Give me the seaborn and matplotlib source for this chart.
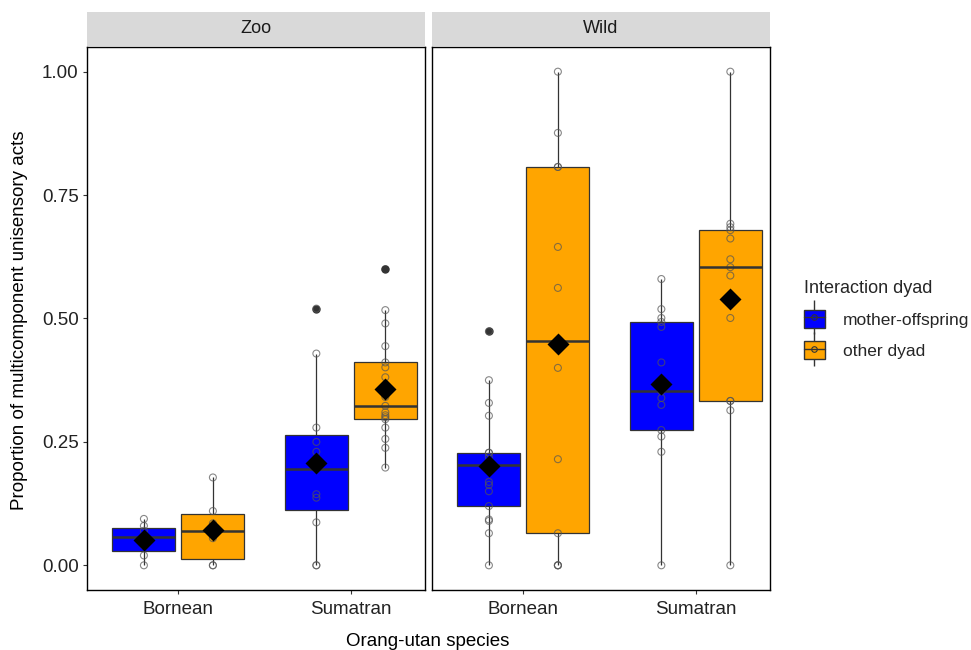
import numpy as np
import pandas as pd
import seaborn as sns
import matplotlib
matplotlib.use("Agg")
import matplotlib.pyplot as plt
from matplotlib.lines import Line2D
from matplotlib.patches import Patch, Rectangle
from matplotlib.legend_handler import HandlerTuple

# values, one list per box
zoo_bor_mo = [0.0, 0.02, 0.04, 0.057, 0.07, 0.08, 0.094]
zoo_bor_ot = [0.0, 0.0, 0.055, 0.085, 0.11, 0.178]
zoo_sum_mo = [0.0, 0.0, 0.087, 0.137, 0.144, 0.195, 0.23, 0.25, 0.279, 0.429, 0.52]
zoo_sum_ot = [0.198, 0.238, 0.256, 0.279, 0.296, 0.300, 0.304, 0.31, 0.323, 0.341,
              0.381, 0.401, 0.411, 0.444, 0.490, 0.517, 0.600]
wild_bor_mo = [0.0, 0.065, 0.09, 0.093, 0.12, 0.15, 0.163, 0.169, 0.203, 0.21,
               0.22, 0.228, 0.228, 0.303, 0.329, 0.375, 0.474]
wild_bor_ot = [0.0, 0.0, 0.0, 0.065, 0.215, 0.40, 0.455, 0.562, 0.645, 0.807,
               0.807, 0.876, 1.0]
wild_sum_mo = [0.0, 0.230, 0.261, 0.274, 0.325, 0.339, 0.353, 0.411, 0.483, 0.493,
               0.501, 0.519, 0.580]
wild_sum_ot = [0.0, 0.314, 0.333, 0.333, 0.501, 0.587, 0.604, 0.620, 0.662, 0.679,
               0.685, 0.692, 1.0]

settings = ["Zoo", "Wild"]
species = ["Bornean", "Sumatran"]
dyads = ["mother-offspring", "other dyad"]
colors = {"mother-offspring": "#0000FF", "other dyad": "#FFA500"}

groups = {
    ("Zoo", "Bornean", "mother-offspring"): zoo_bor_mo,
    ("Zoo", "Bornean", "other dyad"): zoo_bor_ot,
    ("Zoo", "Sumatran", "mother-offspring"): zoo_sum_mo,
    ("Zoo", "Sumatran", "other dyad"): zoo_sum_ot,
    ("Wild", "Bornean", "mother-offspring"): wild_bor_mo,
    ("Wild", "Bornean", "other dyad"): wild_bor_ot,
    ("Wild", "Sumatran", "mother-offspring"): wild_sum_mo,
    ("Wild", "Sumatran", "other dyad"): wild_sum_ot,
}
rows = []
for (st, sp, dy), vals in groups.items():
    for v in vals:
        rows.append({"setting": st, "species": sp, "dyad": dy, "prop": v})
df = pd.DataFrame(rows)

sns.set_style("white")
plt.rcParams["font.family"] = ["Liberation Sans", "DejaVu Sans"]

W, H = 971, 650
fig = plt.figure(figsize=(W / 100, H / 100), dpi=100)
panel_left = [87, 432]
panel_w = 338
top, bottom = 47, 590
for i, st in enumerate(settings):
    ax = fig.add_axes([panel_left[i] / W, (H - bottom) / H, panel_w / W, (bottom - top) / H])
    sub = df[df.setting == st]
    sns.boxplot(data=sub, x="species", y="prop", hue="dyad", order=species,
                hue_order=dyads, palette=colors, saturation=1, width=0.8, gap=0.087,
                showcaps=False, linecolor="#333333", linewidth=0.9,
                medianprops={"linewidth": 1.8},
                flierprops={"marker": "o", "markerfacecolor": "#333333",
                            "markeredgecolor": "#333333", "markersize": 5},
                legend=False, ax=ax)
    n0 = len(ax.collections)
    sns.stripplot(data=sub, x="species", y="prop", hue="dyad", order=species,
                  hue_order=dyads, palette=colors, dodge=True, jitter=False,
                  size=5, edgecolor="#555555", linewidth=0.8, alpha=0.7,
                  legend=False, ax=ax)
    for c in ax.collections[n0:]:
        c.set_facecolor("none")
    sns.pointplot(data=sub, x="species", y="prop", hue="dyad", order=species,
                  hue_order=dyads, palette={d: "black" for d in dyads},
                  estimator="mean", errorbar=None, markers="D", linestyles="none",
                  dodge=0.4, markersize=9, legend=False, ax=ax)
    for ln in ax.lines[-4:]:
        ln.set_zorder(5)

    ax.set_xlim(-0.53, 1.43)
    ax.set_ylim(-0.05, 1.05)
    ax.set_xticks([0, 1])
    ax.set_xticklabels(species)
    ax.set_xlabel("")
    ax.set_ylabel("")
    for s in ax.spines.values():
        s.set_visible(True)
        s.set_color("black")
        s.set_linewidth(1.0)
    ax.tick_params(axis="x", length=3, color="#333333", labelsize=13.5,
                   labelcolor="#222222", pad=5, bottom=True)
    ax.set_yticks([0, 0.25, 0.5, 0.75, 1.0])
    if i == 0:
        ax.set_yticklabels(["0.00", "0.25", "0.50", "0.75", "1.00"])
        ax.tick_params(axis="y", length=3, color="#333333", labelsize=13.5,
                       labelcolor="#222222", pad=3, left=True)
    else:
        ax.tick_params(axis="y", left=False, labelleft=False)
    # facet strip
    strip_h = 34 / (bottom - top)
    ax.add_patch(Rectangle((0, 1.002), 1, strip_h, transform=ax.transAxes,
                           facecolor="#D9D9D9", edgecolor="none", clip_on=False))
    ax.text(0.5, 1.002 + strip_h / 2, st, transform=ax.transAxes, ha="center",
            va="center", fontsize=13, color="#1A1A1A")

fig.text(20 / W, 1 - 320 / H, "Proportion of multicomponent unisensory acts",
         rotation=90, ha="center", va="center", fontsize=13.5, color="black")
fig.text(428 / W, 1 - 641 / H, "Orang-utan species", ha="center", va="center",
         fontsize=13.5, color="black")

handles = []
for d in dyads:
    whisk = Line2D([], [], marker="|", markersize=24, color="#333333",
                   linestyle="none", markeredgewidth=1)
    box = Patch(facecolor=colors[d], edgecolor="#333333", linewidth=1)
    med = Line2D([], [], color="#333333", linewidth=1, marker="o",
                 markerfacecolor="none", markersize=4, markeredgewidth=0.8)
    handles.append((whisk, box, med))
leg = fig.legend(handles, dyads, handler_map={tuple: HandlerTuple(ndivide=1, pad=0)},
                 loc="upper left", bbox_to_anchor=(788 / W, 1 - 264 / H),
                 frameon=False, title="Interaction dyad", fontsize=12.5,
                 title_fontsize=13, handlelength=1.25, handleheight=1.25,
                 labelspacing=0.75, handletextpad=1.0, alignment="left")

fig.savefig("out.png", dpi=100)
